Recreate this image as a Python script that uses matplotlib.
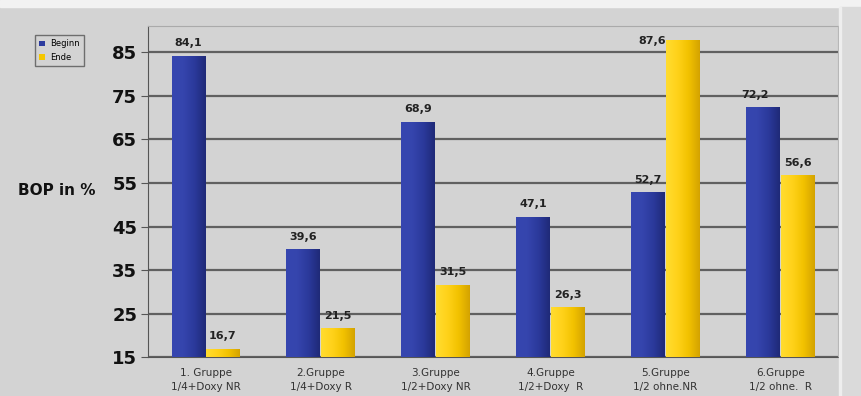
import matplotlib
matplotlib.use("Agg")
import matplotlib.pyplot as plt
from matplotlib.colors import LinearSegmentedColormap
import matplotlib.patches as mpatches
import numpy as np

groups = ["1. Gruppe\n1/4+Doxy NR", "2.Gruppe\n1/4+Doxy R", "3.Gruppe\n1/2+Doxy NR",
          "4.Gruppe\n1/2+Doxy  R", "5.Gruppe\n1/2 ohne.NR", "6.Gruppe\n1/2 ohne.  R"]
beginn = [84.1, 39.6, 68.9, 47.1, 52.7, 72.2]
ende = [16.7, 21.5, 31.5, 26.3, 87.6, 56.6]
beginn_labels = ["84,1", "39,6", "68,9", "47,1", "52,7", "72,2"]
ende_labels = ["16,7", "21,5", "31,5", "26,3", "87,6", "56,6"]
yticks = [15, 25, 35, 45, 55, 65, 75, 85]

bg = "#d3d3d3"
fig = plt.figure(figsize=(8.62, 3.96), dpi=100, facecolor=bg)
# light frame details of the original picture
fig.patches.append(mpatches.Rectangle((0, 0.982), 1, 0.018, transform=fig.transFigure,
                                      color="#f2f2f2", zorder=0))
fig.patches.append(mpatches.Rectangle((0.975, 0), 0.025, 0.982, transform=fig.transFigure,
                                      color="#dadada", zorder=0))
fig.patches.append(mpatches.Rectangle((0.973, 0), 0.003, 0.982, transform=fig.transFigure,
                                      color="#eeeeee", zorder=0))

ax = fig.add_axes([0.172, 0.098, 0.800, 0.836])
ax.set_facecolor(bg)

x = np.arange(len(groups))
w = 0.295
off = 0.15
blue = "#2c3b9e"
yellow = "#f5c700"
cmap_b = LinearSegmentedColormap.from_list("b", ["#3646b0", "#3545ad", "#2b399b", "#1f2a78"])
cmap_y = LinearSegmentedColormap.from_list("y", ["#ffdc30", "#ffd21a", "#f2c200", "#d4a300"])
grad = np.linspace(0, 1, 64).reshape(1, -1)

for yv in yticks:
    ax.axhline(yv, color="#606060", lw=1.6, zorder=1)

ax.bar(x - off, [v - 15 for v in beginn], w, bottom=15, color=blue,
       lw=0, zorder=3, label="Beginn")
ax.bar(x + off, [v - 15 for v in ende], w, bottom=15, color=yellow,
       lw=0, zorder=3, label="Ende")

for xi, v in zip(x - off, beginn):
    ax.imshow(grad, cmap=cmap_b, aspect="auto", extent=(xi - w / 2, xi + w / 2, 15, v), zorder=4)
for xi, v in zip(x + off, ende):
    ax.imshow(grad, cmap=cmap_y, aspect="auto", extent=(xi - w / 2, xi + w / 2, 15, v), zorder=4)

for xi, v, t in zip(x - off, beginn, beginn_labels):
    dx = -6 if v > 70 and xi > 4 else 0
    ax.annotate(t, (xi, v), xytext=(dx, 6), textcoords="offset points",
                ha="center", va="bottom", fontsize=8, fontweight="bold", color="#222222")
for xi, v, t in zip(x + off, ende, ende_labels):
    dx = -22 if v > 85 else 0
    va = "center" if v > 85 else "bottom"
    dy = 0 if v > 85 else 6
    ax.annotate(t, (xi, v), xytext=(dx, dy), textcoords="offset points",
                ha="center", va=va, fontsize=8, fontweight="bold", color="#222222")

ax.set_xlim(-0.5, len(groups) - 0.5)
ax.set_ylim(15, 91)
ax.set_yticks(yticks)
ax.set_yticklabels([str(v) for v in yticks], fontsize=13, fontweight="bold", color="#111111")
ax.set_xticks(x)
ax.set_xticklabels(groups, fontsize=7.5, color="#333333", linespacing=1.5)
ax.tick_params(axis="x", length=0, pad=8)
ax.tick_params(axis="y", length=5, color="#555555", pad=3)

for s in ["top", "right"]:
    ax.spines[s].set_color("#aaaaaa")
ax.spines["left"].set_color("#555555")
ax.spines["bottom"].set_color("#555555")

ax.set_ylabel("BOP in %", rotation=0, fontsize=11, fontweight="bold", color="#111111")
ax.yaxis.set_label_coords(-0.133, 0.48)

leg = ax.legend(loc="upper left", bbox_to_anchor=(-0.17, 0.985), fontsize=6,
                frameon=True, fancybox=False, edgecolor="#555555", facecolor=bg,
                handlelength=0.7, handleheight=0.7, borderpad=0.5, labelspacing=0.5,
                handletextpad=0.6)

fig.savefig("out.png", dpi=100, facecolor=bg)
